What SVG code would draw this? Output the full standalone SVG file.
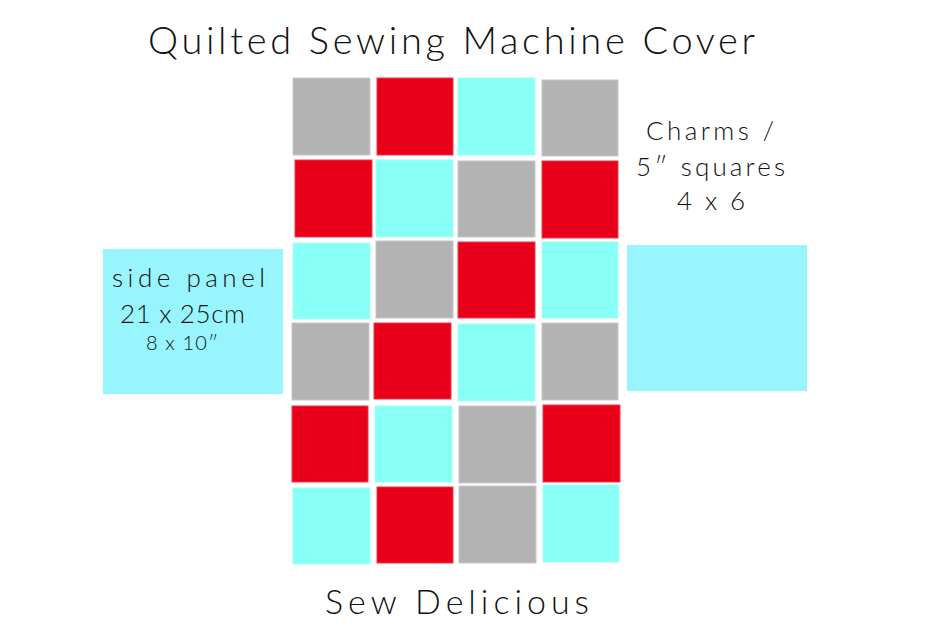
<svg xmlns="http://www.w3.org/2000/svg" width="950" height="634" viewBox="0 0 950 634">
<style>
.g{fill:#b3b3b3;stroke:#c8c8c8;stroke-width:1}
.r{fill:#e8001b;stroke:#ee3a4a;stroke-width:1}
.c{fill:#88fff4;stroke:#a8fff8;stroke-width:1}
.p{fill:#98f5fd}
text{font-family:"Lato","Liberation Sans",sans-serif;font-weight:300;fill:#111}
</style>
<rect width="950" height="634" fill="#fff"/>
<g id="title"><text x="148" y="54" font-size="38" textLength="607">Quilted Sewing Machine Cover</text></g>
<g id="grid">
<g id="r1c1"><rect class="g" x="293" y="78" width="77" height="77"/></g>
<g id="r1c2"><rect class="r" x="377" y="78" width="76" height="77"/></g>
<g id="r1c3"><rect class="c" x="458" y="78" width="77" height="77"/></g>
<g id="r1c4"><rect class="g" x="542" y="80" width="76" height="76"/></g>
<g id="r2c1"><rect class="r" x="295" y="160" width="77" height="77"/></g>
<g id="r2c2"><rect class="c" x="376" y="160" width="77" height="77"/></g>
<g id="r2c3"><rect class="g" x="458" y="161" width="77" height="76"/></g>
<g id="r2c4"><rect class="r" x="542" y="161" width="76" height="77"/></g>
<g id="r3c1"><rect class="c" x="293" y="243" width="77" height="76"/></g>
<g id="r3c2"><rect class="g" x="376" y="241" width="77" height="77"/></g>
<g id="r3c3"><rect class="r" x="458" y="242" width="77" height="76"/></g>
<g id="r3c4"><rect class="c" x="542" y="242" width="76" height="76"/></g>
<g id="r4c1"><rect class="g" x="292" y="323" width="77" height="77"/></g>
<g id="r4c2"><rect class="r" x="374" y="323" width="77" height="76"/></g>
<g id="r4c3"><rect class="c" x="458" y="324" width="77" height="77"/></g>
<g id="r4c4"><rect class="g" x="542" y="323" width="76" height="77"/></g>
<g id="r5c1"><rect class="r" x="292" y="406" width="76" height="76"/></g>
<g id="r5c2"><rect class="c" x="375" y="406" width="77" height="76"/></g>
<g id="r5c3"><rect class="g" x="459" y="406" width="77" height="77"/></g>
<g id="r5c4"><rect class="r" x="543" y="405" width="77" height="77"/></g>
<g id="r6c1"><rect class="c" x="293" y="488" width="77" height="76"/></g>
<g id="r6c2"><rect class="r" x="377" y="487" width="76" height="76"/></g>
<g id="r6c3"><rect class="g" x="459" y="486" width="77" height="77"/></g>
<g id="r6c4"><rect class="c" x="543" y="485" width="76" height="77"/></g>
</g>
<g id="side-panel-left">
<rect class="p" x="103" y="249" width="180" height="145"/>
<text x="112" y="287" font-size="26" textLength="153">side panel</text>
<text x="120" y="323" font-size="26" textLength="125">21 x 25cm</text>
<text x="146" y="350" font-size="20" textLength="72">8 x 10″</text>
</g>
<g id="charms-label">
<text x="646" y="140" font-size="26" textLength="128">Charms /</text>
<text x="636" y="176" font-size="26" textLength="149">5″ squares</text>
<text x="677" y="210" font-size="26" textLength="68">4 x 6</text>
</g>
<g id="side-panel-right"><rect class="p" x="627" y="245" width="180" height="146"/></g>
<g id="footer"><text x="325" y="614" font-size="34" textLength="264">Sew Delicious</text></g>
<g id="connectors"/>
</svg>
